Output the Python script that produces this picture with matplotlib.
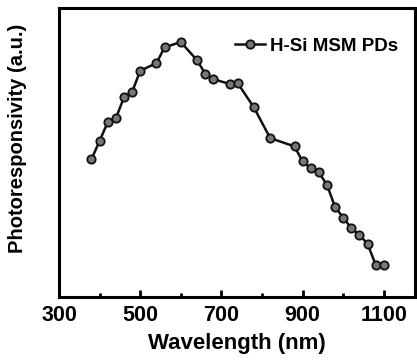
import matplotlib
matplotlib.use("Agg")
import matplotlib.pyplot as plt
from matplotlib.ticker import MultipleLocator

plt.rcParams['font.family'] = ['Liberation Sans', 'DejaVu Sans']
plt.rcParams['font.weight'] = 'bold'

# wavelength (nm) and photoresponsivity (arbitrary units)
wavelength = [380, 400, 420, 440, 460, 480, 500, 540, 560, 600,
              640, 660, 680, 720, 740, 780, 820, 880, 900, 920,
              940, 960, 980, 1000, 1020, 1040, 1060, 1080, 1100]
response = [0.477, 0.540, 0.605, 0.618, 0.691, 0.709, 0.783, 0.809, 0.864, 0.882,
            0.819, 0.773, 0.754, 0.737, 0.740, 0.656, 0.550, 0.521, 0.469, 0.446,
            0.431, 0.388, 0.311, 0.275, 0.238, 0.215, 0.184, 0.111, 0.111]
x_ticks = [300, 500, 700, 900, 1100]

fig = plt.figure(figsize=(4.17, 3.61), dpi=100)
ax = fig.add_axes([0.1415, 0.177, 0.853, 0.801])

ax.plot(wavelength, response, '-o', color='#111111', lw=1.8,
        markersize=6, markerfacecolor='#777777', markeredgecolor='#111111',
        markeredgewidth=1.3, label='H-Si MSM PDs')

ax.set_xlim(300, 1176)
ax.set_ylim(0, 1)
ax.set_xticks(x_ticks)
ax.xaxis.set_minor_locator(MultipleLocator(100))
ax.set_yticks([])
ax.tick_params(axis='x', which='major', direction='in', length=5, width=2,
               labelsize=15.5, pad=6)
ax.tick_params(axis='x', which='minor', direction='in', length=3, width=2)
for s in ax.spines.values():
    s.set_linewidth(2.2)

ax.set_xlabel('Wavelength (nm)', fontsize=16, fontweight='bold', labelpad=5)
ax.set_ylabel('Photoresponsivity (a.u.)', fontsize=14.5, fontweight='bold')
ax.yaxis.set_label_coords(-0.09, 0.55)

ax.legend(loc='upper right', frameon=False, handlelength=1.6,
          handletextpad=0.25, bbox_to_anchor=(1.0, 0.955),
          prop={'weight': 'bold', 'size': 13.5})

fig.savefig('out.png', dpi=100)
